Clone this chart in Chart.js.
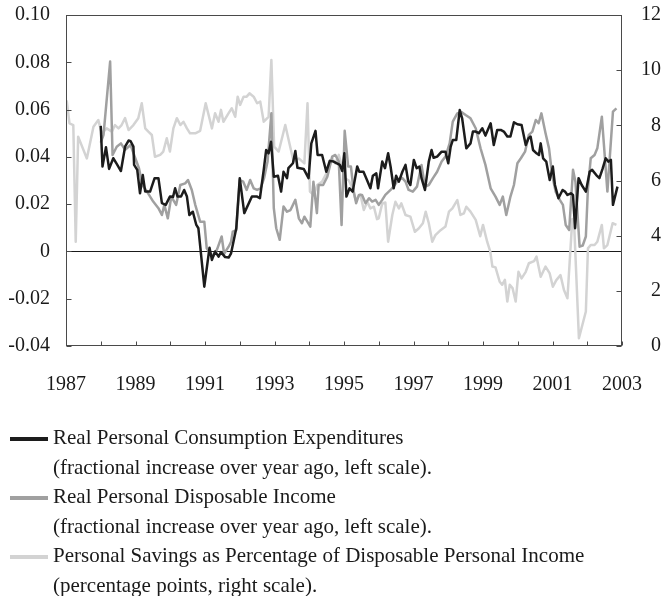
<!DOCTYPE html>
<html>
<head>
<meta charset="utf-8">
<script src="https://cdn.jsdelivr.net/npm/chart.js@4.4.1/dist/chart.umd.min.js"></script>
<style>
  html, body { margin: 0; padding: 0; background: #fff; }
  #wrap { position: relative; width: 661px; height: 596px; }
  #legend { position: absolute; left: 0; top: 423px; font: 21px "Liberation Serif", serif; color: #1a1a1a; line-height: 29.5px; }
  .item { position: relative; padding-left: 53px; white-space: nowrap; }
  .swatch { position: absolute; left: 10px; top: 14px; width: 38px; height: 4px; }
</style>
</head>
<body>
<div id="wrap">
  <canvas id="chart" width="661" height="596"></canvas>
  <div id="legend"></div>
</div>
<script>
// Real personal consumption expenditures, fractional increase over year ago (left scale)
const pceDates = [1988.00, 1988.05, 1988.15, 1988.24, 1988.36, 1988.46, 1988.58, 1988.70, 1988.80, 1988.86, 1988.94, 1988.96,
  1989.05, 1989.13, 1989.21, 1989.28, 1989.42, 1989.55, 1989.66, 1989.76, 1989.87, 1989.99,
  1990.08, 1990.14, 1990.21, 1990.31, 1990.40, 1990.48, 1990.55, 1990.65, 1990.75, 1990.81, 1990.98,
  1991.13, 1991.20, 1991.29, 1991.39, 1991.46, 1991.58, 1991.68, 1991.75, 1991.90,
  1992.00, 1992.13, 1992.35, 1992.50, 1992.58, 1992.69, 1992.76, 1992.83, 1992.90, 1992.98,
  1993.10, 1993.19, 1993.26, 1993.36, 1993.40, 1993.53, 1993.60, 1993.66, 1993.84, 1993.98,
  1994.06, 1994.18, 1994.24, 1994.37, 1994.49, 1994.59, 1994.70, 1994.88, 1994.95,
  1995.01, 1995.07, 1995.16, 1995.25, 1995.38, 1995.44, 1995.56, 1995.64, 1995.76, 1995.83, 1995.93, 1995.98,
  1996.10, 1996.18, 1996.27, 1996.34, 1996.43, 1996.50, 1996.58, 1996.68, 1996.77, 1996.85, 1996.91,
  1997.01, 1997.09, 1997.17, 1997.23, 1997.33, 1997.44, 1997.52, 1997.58, 1997.68, 1997.81, 1997.92,
  1998.00, 1998.07, 1998.13, 1998.23, 1998.33, 1998.40, 1998.52, 1998.64, 1998.71, 1998.79, 1998.88, 1998.98,
  1999.07, 1999.22, 1999.31, 1999.41, 1999.51, 1999.60, 1999.70, 1999.79, 1999.89, 1999.99,
  2000.11, 2000.23, 2000.31, 2000.37, 2000.44, 2000.54, 2000.61, 2000.66, 2000.73, 2000.82, 2000.92,
  2001.01, 2001.07, 2001.17, 2001.29, 2001.36, 2001.43, 2001.53, 2001.59, 2001.65, 2001.75, 2001.84, 2001.96,
  2002.07, 2002.14, 2002.26, 2002.35, 2002.44, 2002.53, 2002.61, 2002.68, 2002.74, 2002.87];
const pceValues = [0.0531, 0.0359, 0.0441, 0.0349, 0.0394, 0.0370, 0.0340, 0.0443, 0.0469, 0.0466, 0.0443, 0.0366,
  0.0345, 0.0246, 0.0323, 0.0253, 0.0253, 0.0310, 0.0310, 0.0204, 0.0197, 0.0232,
  0.0230, 0.0267, 0.0232, 0.0232, 0.0260, 0.0232, 0.0154, 0.0168, 0.0112, 0.0098, -0.0149,
  0.0016, -0.0036, 0.0000, -0.0022, -0.0003, -0.0024, -0.0026, -0.0008, 0.0098,
  0.0310, 0.0162, 0.0232, 0.0232, 0.0225, 0.0345, 0.0429, 0.0415, 0.0464, 0.0316,
  0.0320, 0.0253, 0.0337, 0.0310, 0.0352, 0.0373, 0.0425, 0.0354, 0.0349, 0.0310,
  0.0457, 0.0510, 0.0408, 0.0408, 0.0337, 0.0383, 0.0380, 0.0366, 0.0340,
  0.0415, 0.0232, 0.0267, 0.0253, 0.0359, 0.0337, 0.0337, 0.0310, 0.0267, 0.0320, 0.0330, 0.0267,
  0.0380, 0.0352, 0.0415, 0.0359, 0.0267, 0.0320, 0.0295, 0.0337, 0.0366, 0.0295, 0.0281,
  0.0387, 0.0352, 0.0359, 0.0310, 0.0260, 0.0380, 0.0429, 0.0396, 0.0401, 0.0422, 0.0422,
  0.0373, 0.0443, 0.0471, 0.0471, 0.0598, 0.0563, 0.0436, 0.0457, 0.0507, 0.0507, 0.0500, 0.0521,
  0.0490, 0.0542, 0.0450, 0.0514, 0.0514, 0.0507, 0.0486, 0.0486, 0.0546, 0.0538,
  0.0535, 0.0450, 0.0479, 0.0486, 0.0429, 0.0415, 0.0408, 0.0457, 0.0394, 0.0380, 0.0302,
  0.0359, 0.0281, 0.0225, 0.0260, 0.0253, 0.0239, 0.0246, 0.0239, 0.0098, 0.0310, 0.0281, 0.0253,
  0.0337, 0.0345, 0.0323, 0.0310, 0.0349, 0.0394, 0.0380, 0.0387, 0.0197, 0.0274];

// Real personal disposable income, fractional increase over year ago (left scale)
const dpiDates = [1988.00, 1988.08, 1988.27, 1988.34, 1988.46, 1988.58, 1988.70, 1988.86, 1988.96,
  1989.10, 1989.20, 1989.30, 1989.51, 1989.66, 1989.76, 1989.83, 1989.93,
  1990.03, 1990.17, 1990.29, 1990.43, 1990.51, 1990.62, 1990.72, 1990.86, 1990.98,
  1991.05, 1991.15, 1991.25, 1991.35, 1991.48, 1991.55, 1991.68, 1991.75, 1991.80, 1991.90,
  1992.00, 1992.10, 1992.20, 1992.30, 1992.40, 1992.50, 1992.60, 1992.70, 1992.80, 1992.91, 1992.98,
  1993.05, 1993.15, 1993.26, 1993.36, 1993.46, 1993.60, 1993.70, 1993.79, 1993.86,
  1994.03, 1994.12, 1994.22, 1994.27, 1994.40, 1994.52, 1994.66, 1994.75, 1994.85, 1994.93,
  1995.02, 1995.12, 1995.20, 1995.28, 1995.35, 1995.43, 1995.52, 1995.62, 1995.72, 1995.81, 1995.91,
  1996.00, 1996.10, 1996.19, 1996.34, 1996.46, 1996.56, 1996.68, 1996.77, 1996.86, 1996.98,
  1997.10, 1997.23, 1997.33, 1997.44, 1997.56, 1997.68, 1997.81, 1997.92,
  1998.04, 1998.13, 1998.26, 1998.38, 1998.50, 1998.64, 1998.79, 1998.93,
  1999.07, 1999.22, 1999.36, 1999.48, 1999.57, 1999.67, 1999.79, 1999.89, 1999.99,
  2000.09, 2000.21, 2000.32, 2000.42, 2000.52, 2000.60, 2000.68, 2000.80, 2000.90, 2000.99,
  2001.09, 2001.21, 2001.30, 2001.38, 2001.48, 2001.59, 2001.66, 2001.78, 2001.87, 2001.96,
  2002.02, 2002.10, 2002.21, 2002.29, 2002.42, 2002.58, 2002.74, 2002.84];
const dpiValues = [0.0460, 0.0493, 0.0803, 0.0408, 0.0443, 0.0457, 0.0430, 0.0450, 0.0408,
  0.0352, 0.0281, 0.0260, 0.0211, 0.0183, 0.0154, 0.0197, 0.0140,
  0.0232, 0.0197, 0.0281, 0.0288, 0.0302, 0.0260, 0.0197, 0.0126, 0.0126,
  0.0013, -0.0010, -0.0018, 0.0010, 0.0063, -0.0010, 0.0020, 0.0041, 0.0084, 0.0090,
  0.0302, 0.0295, 0.0260, 0.0302, 0.0267, 0.0260, 0.0267, 0.0310, 0.0380, 0.0584, 0.0183,
  0.0098, 0.0049, 0.0190, 0.0168, 0.0175, 0.0218, 0.0140, 0.0119, 0.0147,
  0.0105, 0.0295, 0.0162, 0.0281, 0.0281, 0.0316, 0.0401, 0.0408, 0.0380, 0.0112,
  0.0510, 0.0359, 0.0359, 0.0253, 0.0204, 0.0239, 0.0239, 0.0204, 0.0225, 0.0211, 0.0218,
  0.0197, 0.0218, 0.0239, 0.0260, 0.0281, 0.0302, 0.0310, 0.0295, 0.0260, 0.0253,
  0.0274, 0.0366, 0.0274, 0.0281, 0.0310, 0.0337, 0.0380, 0.0401,
  0.0457, 0.0549, 0.0584, 0.0590, 0.0577, 0.0563, 0.0521, 0.0436,
  0.0366, 0.0267, 0.0232, 0.0197, 0.0232, 0.0154, 0.0232, 0.0281, 0.0373,
  0.0394, 0.0422, 0.0493, 0.0507, 0.0556, 0.0542, 0.0584, 0.0500, 0.0436, 0.0323,
  0.0253, 0.0218, 0.0197, 0.0112, 0.0091, 0.0345, 0.0295, 0.0020, 0.0025, 0.0063,
  0.0267, 0.0394, 0.0408, 0.0436, 0.0570, 0.0253, 0.0591, 0.0605];

// Personal savings as percentage of disposable personal income (right scale)
const savDates = [1987.02, 1987.10, 1987.21, 1987.28, 1987.35, 1987.60, 1987.79, 1987.93,
  1988.03, 1988.17, 1988.32, 1988.41, 1988.51, 1988.60, 1988.70, 1988.80, 1988.94,
  1989.08, 1989.18, 1989.28, 1989.37, 1989.47, 1989.56, 1989.71, 1989.80, 1989.90, 1989.99,
  1990.09, 1990.19, 1990.29, 1990.38, 1990.48, 1990.57, 1990.72, 1990.86,
  1991.02, 1991.20, 1991.29, 1991.39, 1991.46, 1991.53, 1991.68, 1991.77, 1991.87, 1991.94,
  1992.01, 1992.11, 1992.20, 1992.28, 1992.40, 1992.50, 1992.59, 1992.69, 1992.83, 1992.91, 1992.99,
  1993.12, 1993.31, 1993.46, 1993.55, 1993.70, 1993.86, 1993.95,
  1994.02, 1994.13, 1994.23, 1994.37, 1994.52, 1994.66, 1994.75, 1994.85,
  1995.03, 1995.14, 1995.25, 1995.33, 1995.47, 1995.57, 1995.67, 1995.76, 1995.86, 1995.95,
  1996.00, 1996.10, 1996.19, 1996.27, 1996.39, 1996.48, 1996.58, 1996.65, 1996.77, 1996.91,
  1997.04, 1997.15, 1997.27, 1997.35, 1997.44, 1997.54, 1997.63, 1997.78, 1997.92,
  1998.02, 1998.12, 1998.26, 1998.35, 1998.45, 1998.52, 1998.64, 1998.79, 1998.92,
  1999.00, 1999.12, 1999.21, 1999.27, 1999.36, 1999.48, 1999.55, 1999.63, 1999.70, 1999.77, 1999.85, 1999.94,
  2000.02, 2000.11, 2000.23, 2000.32, 2000.47, 2000.54, 2000.66, 2000.80, 2000.92,
  2001.01, 2001.11, 2001.23, 2001.33, 2001.43, 2001.57, 2001.63, 2001.76, 2001.96,
  2002.02, 2002.10, 2002.21, 2002.29, 2002.42, 2002.48, 2002.58, 2002.73, 2002.84];
const savValues = [8.90, 8.07, 8.01, 3.78, 7.59, 6.80, 7.95, 8.19,
  7.71, 7.89, 7.77, 8.01, 7.89, 8.01, 8.26, 7.83, 8.01,
  8.26, 8.80, 7.89, 7.77, 7.65, 6.86, 6.93, 7.05, 7.53, 7.05,
  7.89, 8.26, 8.01, 8.13, 7.89, 7.71, 7.71, 7.80,
  8.80, 7.89, 8.44, 8.13, 8.56, 8.13, 8.44, 8.62, 8.31, 9.04,
  8.74, 9.04, 9.04, 9.16, 9.04, 8.80, 8.86, 8.13, 8.31, 10.37, 7.23,
  7.05, 8.01, 7.18, 6.68, 6.80, 6.62, 8.80,
  5.60, 5.47, 5.84, 5.96, 6.32, 6.80, 6.62, 6.93,
  6.08, 6.00, 5.70, 5.30, 5.50, 4.93, 5.23, 4.99, 5.05, 4.60,
  4.63, 5.17, 5.20, 3.78, 4.75, 5.23, 4.99, 5.17, 4.75, 4.69,
  4.14, 4.26, 4.45, 4.87, 4.45, 3.78, 4.02, 4.20, 4.33,
  4.87, 4.99, 5.29, 4.75, 4.81, 5.05, 4.87, 4.57, 3.98,
  4.39, 3.78, 3.42, 2.88, 2.85, 2.33, 2.22, 2.40, 1.61, 2.22, 2.10, 1.61,
  2.69, 2.45, 2.69, 3.00, 3.08, 3.24, 2.51, 2.88, 2.63,
  2.15, 2.39, 2.57, 2.03, 1.73, 4.60, 4.20, 0.28, 1.25,
  3.54, 3.66, 3.66, 3.78, 4.39, 3.54, 3.66, 4.45, 4.39];

const yearTicks = [1987, 1989, 1991, 1993, 1995, 1997, 1999, 2001, 2003];

const seriesLabels = [
  ["Real Personal Consumption Expenditures", "(fractional increase over year ago, left scale)."],
  ["Real Personal Disposable Income", "(fractional increase over year ago, left scale)."],
  ["Personal Savings as Percentage of Disposable Personal Income", "(percentage points, right scale)."]
];
const seriesColors = ["#1c1c1c", "#a0a0a0", "#d3d3d3"];

const FONT = { family: "'Liberation Serif', serif", size: 20 };
const TEXT = "#1a1a1a";

function toPoints(dates, values) {
  return dates.map((d, i) => ({ x: d, y: values[i] }));
}

// keep the plot box where the layout padding puts it
function fixBox(w, h) {
  return s => {
    if (w) s.width = w;
    if (h) s.height = h;
    s.paddingTop = s.paddingBottom = s.paddingLeft = s.paddingRight = 0;
  };
}

// Frame round the plot and inward tick marks on every axis
const frameTicks = {
  id: "frameTicks",
  afterDatasetsDraw(chart) {
    const { ctx, chartArea: a, scales } = chart;
    const L = Math.round(a.left) + 0.5, R = Math.round(a.right) - 0.5;
    const T = Math.round(a.top) + 0.5, B = Math.round(a.bottom) - 0.5;
    ctx.save();
    ctx.strokeStyle = "#4a4a4a";
    ctx.lineWidth = 1;
    ctx.strokeRect(L, T, R - L, B - T);
    ctx.beginPath();
    scales.x.ticks.forEach(t => {
      const px = Math.round(scales.x.getPixelForValue(t.value)) + 0.5;
      ctx.moveTo(px, B); ctx.lineTo(px, B - 4);
    });
    scales.y.ticks.forEach(t => {
      const py = Math.round(scales.y.getPixelForValue(t.value)) + 0.5;
      ctx.moveTo(L, py); ctx.lineTo(L + 5, py);
    });
    scales.y2.ticks.forEach(t => {
      const py = Math.round(scales.y2.getPixelForValue(t.value)) + 0.5;
      ctx.moveTo(R, py); ctx.lineTo(R - 5, py);
    });
    ctx.stroke();
    ctx.restore();
  }
};

const lineStyle = { borderWidth: 2.5, pointRadius: 0, tension: 0, fill: false, borderJoinStyle: "round" };

new Chart(document.getElementById("chart"), {
  type: "line",
  data: {
    datasets: [
      { ...lineStyle, label: seriesLabels[0].join(" "), data: toPoints(pceDates, pceValues), borderColor: seriesColors[0], yAxisID: "y" },
      { ...lineStyle, label: seriesLabels[1].join(" "), data: toPoints(dpiDates, dpiValues), borderColor: seriesColors[1], yAxisID: "y" },
      { ...lineStyle, label: seriesLabels[2].join(" "), data: toPoints(savDates, savValues), borderColor: seriesColors[2], yAxisID: "y2" }
    ]
  },
  options: {
    responsive: false,
    animation: false,
    events: [],
    layout: { padding: { top: 15, right: 0, bottom: 200, left: 0 } },
    plugins: { legend: { display: false }, tooltip: { enabled: false } },
    scales: {
      x: {
        type: "linear", min: 1987, max: 2003,
        grid: { display: false, drawTicks: false },
        border: { display: false },
        ticks: {
          stepSize: 1, autoSkip: false, maxRotation: 0, padding: 27, font: FONT, color: TEXT,
          callback: v => (yearTicks.includes(v) ? String(v) : "")
        },
        afterFit: fixBox(0, 50)
      },
      y: {
        position: "left", min: -0.04, max: 0.10,
        grid: {
          drawTicks: false, lineWidth: 1,
          color: c => (c.tick && Math.abs(c.tick.value) < 1e-9 ? "#1a1a1a" : "rgba(0,0,0,0)")
        },
        border: { display: false },
        ticks: {
          stepSize: 0.02, padding: 16, font: FONT, color: TEXT,
          callback: v => (Math.abs(v) < 1e-9 ? "0" : v.toFixed(2))
        },
        afterFit: fixBox(66, 0)
      },
      y2: {
        position: "right", min: 0, max: 12,
        grid: { display: false, drawTicks: false },
        border: { display: false },
        ticks: { stepSize: 2, padding: 15, crossAlign: "far", font: FONT, color: TEXT },
        afterFit: fixBox(39, 0)
      }
    }
  },
  plugins: [frameTicks]
});

// Two-line legend entries under the chart
const legend = document.getElementById("legend");
seriesLabels.forEach((lines, i) => {
  const item = document.createElement("div");
  item.className = "item";
  item.innerHTML = `<span class="swatch" style="background:${seriesColors[i]}"></span>${lines[0]}<br>${lines[1]}`;
  legend.appendChild(item);
});
</script>
</body>
</html>
